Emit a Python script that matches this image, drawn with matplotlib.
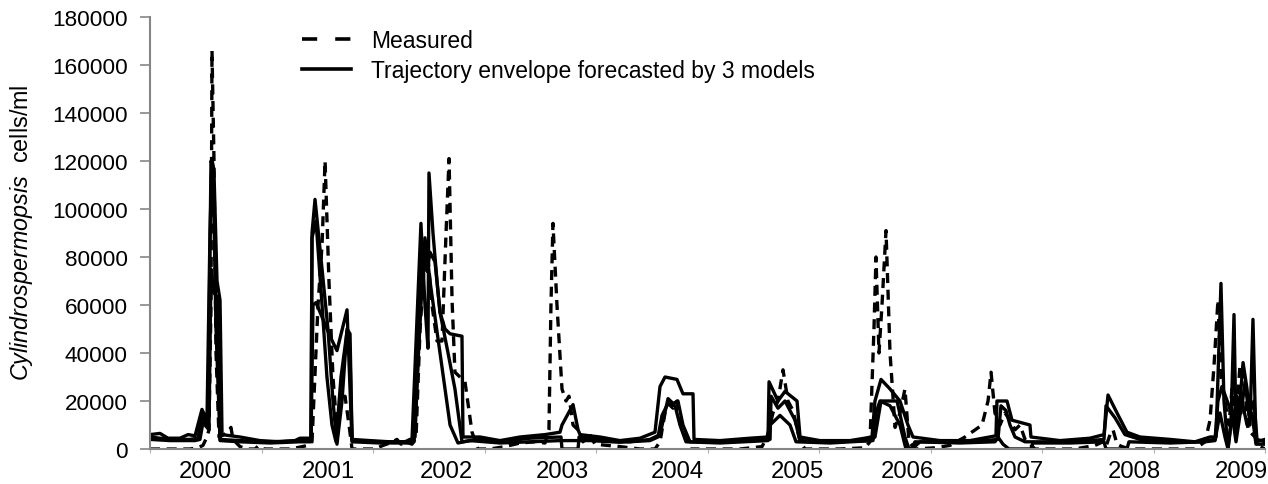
import matplotlib
matplotlib.use("Agg")
import matplotlib.pyplot as plt
from matplotlib.lines import Line2D
import numpy as np

plt.rcParams['font.family'] = ['Liberation Sans', 'DejaVu Sans']
plt.rcParams['mathtext.fontset'] = 'custom'
plt.rcParams['mathtext.it'] = 'Liberation Sans:italic'
plt.rcParams['mathtext.rm'] = 'Liberation Sans'

# ---------------- data ----------------
years = ['2000', '2001', '2002', '2003', '2004', '2005', '2006', '2007', '2008', '2009']

measured_t = [2000.000, 2000.179, 2000.359, 2000.430, 2000.475, 2000.511, 2000.529, 2000.547, 2000.556,
              2000.574, 2000.592, 2000.619, 2000.664, 2000.700, 2000.726, 2000.744, 2000.807, 2000.879,
              2000.942, 2000.978, 2001.022, 2001.256, 2001.345, 2001.417, 2001.453, 2001.507, 2001.543,
              2001.570, 2001.605, 2001.641, 2001.677, 2001.713, 2001.749, 2001.785, 2001.812, 2002.018,
              2002.090, 2002.152, 2002.215, 2002.251, 2002.296, 2002.350, 2002.386, 2002.422, 2002.457,
              2002.484, 2002.529, 2002.574, 2002.619, 2002.655, 2002.682, 2002.709, 2002.735, 2002.780,
              2002.825, 2002.888, 2002.942, 2003.049, 2003.184, 2003.318, 2003.453, 2003.543, 2003.578,
              2003.596, 2003.614, 2003.650, 2003.695, 2003.731, 2003.758, 2003.794, 2003.839, 2003.883,
              2003.946, 2003.991, 2004.215, 2004.395, 2004.529, 2004.574, 2004.619, 2004.646, 2004.691,
              2004.726, 2004.771, 2004.843, 2005.291, 2005.489, 2005.534, 2005.587, 2005.632, 2005.677,
              2005.722, 2005.767, 2005.830, 2005.874, 2006.188, 2006.413, 2006.457, 2006.493, 2006.511,
              2006.538, 2006.565, 2006.601, 2006.637, 2006.682, 2006.726, 2006.771, 2006.807, 2006.861,
              2007.040, 2007.175, 2007.309, 2007.462, 2007.516, 2007.543, 2007.578, 2007.623, 2007.668,
              2007.713, 2007.758, 2007.803, 2007.848, 2007.937, 2008.296, 2008.475, 2008.547, 2008.574,
              2008.610, 2008.637, 2008.673, 2008.717, 2008.789, 2009.372, 2009.462, 2009.507, 2009.543,
              2009.578, 2009.605, 2009.641, 2009.677, 2009.704, 2009.740, 2009.776, 2009.812, 2009.848,
              2009.910, 2009.955, 2010.000]
measured_v = [0, 0, 0, 500, 1500, 5000, 8000, 60000, 166000,
              120000, 40000, 5000, 6000, 7000, 9000, 4000, 1000, 0,
              0, 1500, 0, 0, 800, 1500, 3000, 60000, 85000,
              120000, 70000, 30000, 8000, 18000, 22000, 10000, 0, 0,
              1500, 2500, 4000, 2000, 3000, 2000, 5000, 50000, 75000,
              85000, 60000, 45000, 45000, 90000, 121000, 62000, 32000, 30000,
              28000, 7000, 0, 0, 1000, 2500, 3000, 2500, 8000,
              60000, 94000, 60000, 25000, 20000, 22000, 10000, 8000, 3000,
              6000, 2000, 1000, 0, 0, 3000, 15000, 19000, 17000,
              20000, 10000, 0, 0, 1000, 5000, 15000, 20000, 33000,
              20000, 16000, 3000, 0, 0, 500, 3000, 50000, 80000,
              40000, 60000, 91000, 40000, 9000, 15000, 25000, 3000, 0,
              500, 1500, 5000, 10000, 20000, 32000, 15000, 10000, 15000,
              12000, 8000, 10000, 4000, 0, 0, 1500, 3000, 1000,
              6000, 8000, 2000, 1000, 0, 0, 3000, 12000, 35000,
              62000, 30000, 20000, 10000, 25000, 12000, 35000, 30000, 8000,
              5000, 1000, 0]

model_a_t = [2000.000, 2000.090, 2000.161, 2000.269, 2000.341, 2000.404, 2000.466, 2000.511, 2000.538,
             2000.556, 2000.574, 2000.601, 2000.628, 2000.646, 2000.807, 2000.987, 2001.166, 2001.300,
             2001.345, 2001.444, 2001.453, 2001.480, 2001.543, 2001.596, 2001.641, 2001.677, 2001.722,
             2001.767, 2001.794, 2001.812, 2001.973, 2002.152, 2002.287, 2002.332, 2002.350, 2002.430,
             2002.466, 2002.493, 2002.502, 2002.538, 2002.574, 2002.601, 2002.646, 2002.691, 2002.798,
             2002.807, 2002.960, 2003.139, 2003.318, 2003.543, 2003.677, 2003.695, 2003.794, 2003.839,
             2003.857, 2004.036, 2004.215, 2004.395, 2004.529, 2004.574, 2004.619, 2004.726, 2004.780,
             2004.870, 2004.879, 2005.112, 2005.381, 2005.543, 2005.552, 2005.632, 2005.695, 2005.803,
             2005.830, 2006.009, 2006.278, 2006.475, 2006.502, 2006.556, 2006.637, 2006.726, 2006.798,
             2006.843, 2007.085, 2007.354, 2007.587, 2007.596, 2007.686, 2007.731, 2007.892, 2007.901,
             2008.161, 2008.430, 2008.556, 2008.574, 2008.592, 2008.673, 2008.762, 2008.879, 2009.148,
             2009.372, 2009.507, 2009.561, 2009.605, 2009.632, 2009.668, 2009.695, 2009.722, 2009.740,
             2009.776, 2009.803, 2009.839, 2009.865, 2009.892, 2009.919, 2010.000]
model_a_v = [6000, 6500, 4500, 4500, 6000, 5500, 16500, 12000, 90000,
             121000, 115000, 70000, 62000, 6000, 5000, 3500, 3000, 3500,
             4500, 4500, 90000, 104000, 75000, 50000, 20000, 2000, 20000,
             50000, 48000, 4000, 3500, 3000, 3000, 4000, 4000, 94000,
             60000, 42000, 115000, 90000, 70000, 57000, 50000, 48000, 47000,
             5000, 5000, 3500, 5000, 6000, 7000, 10000, 18500, 8000,
             6000, 5000, 3500, 4500, 7000, 26000, 30000, 29000, 23000,
             23000, 4000, 3500, 4500, 5000, 28000, 20000, 24000, 20000,
             5000, 3500, 3500, 5000, 20000, 29000, 25000, 20000, 10000,
             5000, 3500, 3500, 5500, 20000, 20000, 12000, 10000, 5000,
             3500, 4500, 6000, 14000, 22500, 15000, 7000, 5000, 4000,
             3000, 5000, 5000, 69000, 20000, 0, 10000, 56000, 8000,
             20000, 36000, 25000, 10000, 54000, 3000, 4000]

model_b_t = [2000.000, 2000.179, 2000.359, 2000.430, 2000.466, 2000.520, 2000.547, 2000.565, 2000.592,
             2000.628, 2000.807, 2001.076, 2001.345, 2001.444, 2001.453, 2001.489, 2001.543, 2001.587,
             2001.632, 2001.668, 2001.713, 2001.767, 2001.794, 2001.812, 2002.063, 2002.332, 2002.377,
             2002.439, 2002.484, 2002.511, 2002.556, 2002.601, 2002.673, 2002.735, 2002.798, 2002.960,
             2003.139, 2003.408, 2003.686, 2003.695, 2003.839, 2003.848, 2004.036, 2004.305, 2004.484,
             2004.574, 2004.646, 2004.691, 2004.735, 2004.780, 2004.843, 2005.112, 2005.381, 2005.561,
             2005.570, 2005.632, 2005.695, 2005.785, 2005.830, 2006.099, 2006.457, 2006.502, 2006.556,
             2006.700, 2006.771, 2006.807, 2006.834, 2006.906, 2007.175, 2007.489, 2007.605, 2007.632,
             2007.677, 2007.713, 2007.758, 2007.848, 2008.161, 2008.430, 2008.556, 2008.574, 2008.655,
             2008.744, 2008.879, 2009.148, 2009.417, 2009.552, 2009.578, 2009.614, 2009.677, 2009.713,
             2009.749, 2009.785, 2009.821, 2009.857, 2009.901, 2009.928, 2010.000]
model_b_v = [5000, 4000, 4000, 4500, 14000, 9000, 120000, 118000, 50000,
             4000, 3500, 3000, 3500, 3500, 88000, 95000, 60000, 30000,
             10000, 3000, 30000, 49000, 40000, 3500, 3000, 3000, 5000,
             80000, 74000, 82000, 78000, 57000, 40000, 25000, 3000, 4000,
             3000, 4500, 5000, 0, 0, 5000, 4000, 3000, 4000,
             6000, 21000, 19000, 20000, 10000, 3000, 3000, 3500, 4000,
             22000, 17000, 20000, 12000, 3500, 3000, 3500, 5000, 20000,
             20000, 5000, 0, 0, 3000, 3000, 3500, 4000, 18000,
             16000, 10000, 5000, 3000, 3000, 3500, 4000, 18000, 13000,
             6000, 4000, 3000, 3000, 4000, 20000, 26000, 18000, 12000,
             22000, 15000, 28000, 14000, 20000, 4000, 3000]

model_c_t = [2000.000, 2000.179, 2000.404, 2000.448, 2000.475, 2000.529, 2000.547, 2000.574, 2000.610,
             2000.628, 2000.807, 2001.076, 2001.345, 2001.444, 2001.462, 2001.489, 2001.543, 2001.614,
             2001.677, 2001.767, 2001.812, 2002.063, 2002.350, 2002.368, 2002.430, 2002.466, 2002.511,
             2002.556, 2002.601, 2002.646, 2002.691, 2002.762, 2002.870, 2003.139, 2003.408, 2003.677,
             2003.946, 2004.215, 2004.484, 2004.556, 2004.592, 2004.646, 2004.709, 2004.753, 2004.807,
             2005.112, 2005.543, 2005.561, 2005.650, 2005.740, 2005.794, 2006.099, 2006.484, 2006.511,
             2006.547, 2006.637, 2006.726, 2006.780, 2006.825, 2006.861, 2007.265, 2007.578, 2007.605,
             2007.650, 2007.704, 2007.901, 2007.919, 2008.251, 2008.556, 2008.574, 2008.762, 2008.780,
             2009.148, 2009.462, 2009.552, 2009.596, 2009.641, 2009.668, 2009.704, 2009.740, 2009.794,
             2009.839, 2009.883, 2009.919, 2010.000]
model_c_v = [4000, 3500, 3500, 4000, 11000, 8000, 75000, 65000, 63000,
             3500, 3000, 2500, 3000, 3000, 60000, 61000, 55000, 47000,
             41000, 58000, 3000, 2500, 2500, 3000, 60000, 88000, 70000,
             55000, 40000, 25000, 10000, 2500, 3500, 2500, 3000, 3500,
             3500, 2800, 3500, 5000, 14000, 19000, 18000, 10000, 3000,
             2500, 3500, 10000, 14000, 10000, 3000, 2500, 3500, 15000,
             20000, 18000, 10000, 0, 0, 3000, 2500, 3000, 5000,
             2000, 0, 0, 2500, 2500, 3000, 0, 0, 3000,
             2500, 3000, 3500, 15000, 5000, 0, 15000, 3000, 20000,
             10000, 15000, 2000, 2000]

# ---------------- figure ----------------
W, H, DPI = 1268, 485, 100
fig = plt.figure(figsize=(W / DPI, H / DPI), dpi=DPI)
ax = fig.add_axes([150 / W, 1 - 450 / H, 1115 / W, 432 / H])

lw = 2.4
ax.plot(model_c_t, model_c_v, color='black', lw=lw, solid_joinstyle='round')
ax.plot(model_b_t, model_b_v, color='black', lw=lw, solid_joinstyle='round')
ax.plot(model_a_t, model_a_v, color='black', lw=lw, solid_joinstyle='round')
ax.plot(measured_t, measured_v, color='black', lw=lw, dashes=(3, 2))

ax.set_xlim(2000, 2010)
ax.set_ylim(0, 180000)
ax.set_yticks(np.arange(0, 180001, 20000))
ax.set_yticklabels([f"{v}" for v in range(0, 180001, 20000)])

# year boundaries as small ticks, year names as unticked labels
ax.set_xticks(np.arange(2000, 2011))
ax.set_xticklabels([])
label_pos = [2000.50, 2001.60, 2002.66, 2003.70, 2004.73, 2005.81, 2006.79, 2007.78, 2008.83, 2009.79]
ax.set_xticks(label_pos, minor=True)
ax.set_xticklabels(years, minor=True)
ax.tick_params(axis='x', which='major', length=3, width=0.8, color='#b0b0b0', direction='out')
ax.tick_params(axis='x', which='minor', length=0, pad=8, labelsize=17.2)
ax.tick_params(axis='y', length=7, width=1.2, color='#868686', pad=9, labelsize=16.2)

for s in ['top', 'right']:
    ax.spines[s].set_visible(False)
for s in ['left', 'bottom']:
    ax.spines[s].set_color('#868686')
    ax.spines[s].set_linewidth(1.5)

fig.text(22 / W, 1 - 233 / H, r"$\it{Cylindrospermopsis}$  cells/ml", fontsize=16.8,
         rotation=90, ha='center', va='center')

handles = [Line2D([], [], color='black', lw=2.6, dashes=(4.2, 5.0)),
           Line2D([], [], color='black', lw=2.6)]
leg = fig.legend(handles, ['Measured', 'Trajectory envelope forecasted by 3 models'],
                 loc='upper left', bbox_to_anchor=(302 / W, 1 - 30 / H), frameon=False,
                 fontsize=16.5, handlelength=2.15, handletextpad=0.85, labelspacing=0.3,
                 borderpad=0, borderaxespad=0)

fig.savefig('out.png', dpi=DPI)
